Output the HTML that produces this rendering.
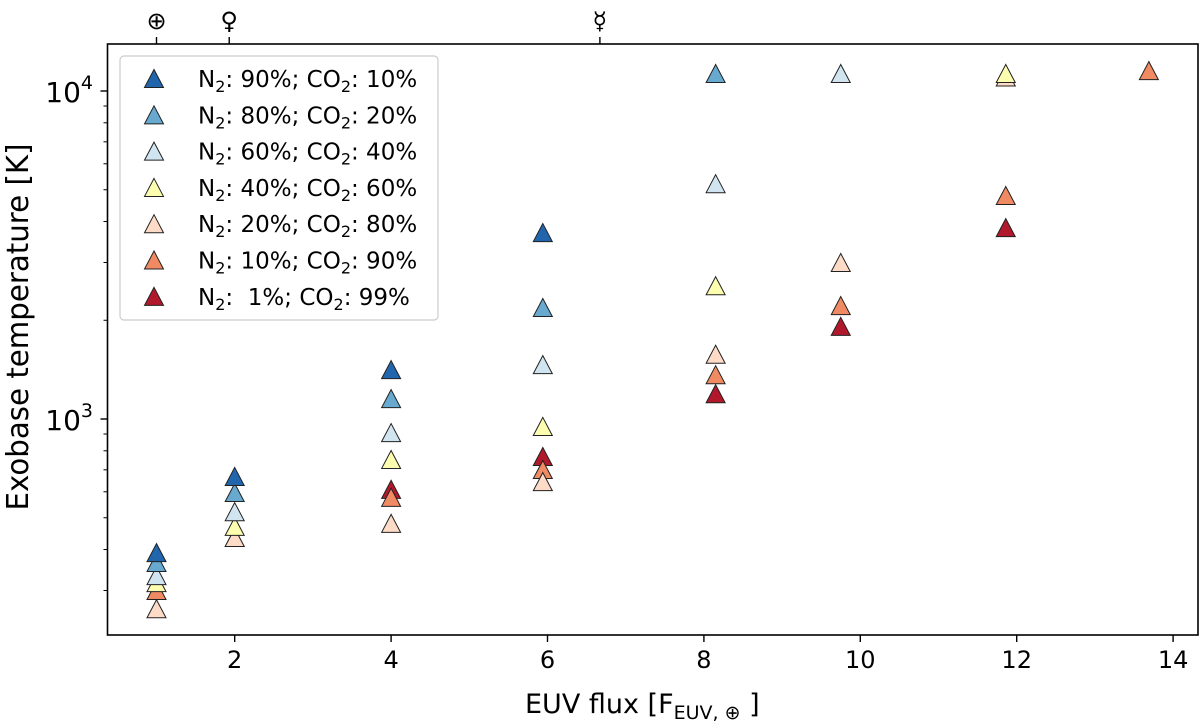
<!DOCTYPE html>
<html><head><meta charset="utf-8"><style>
html,body{margin:0;padding:0;background:#fff;}
svg{display:block;font-family:"DejaVu Sans","Liberation Sans",sans-serif;}
</style></head><body>
<svg id="chart" width="1200" height="722" viewBox="0 0 1200 722" xmlns="http://www.w3.org/2000/svg"></svg>
<script>
const xValues = [1, 2, 4, 5.94, 8.15, 9.75, 11.86, 13.69];
const seriesNames = ["N2 90% CO2 10%","N2 80% CO2 20%","N2 60% CO2 40%","N2 40% CO2 60%","N2 20% CO2 80%","N2 10% CO2 90%","N2 1% CO2 99%"];
const seriesColors = ["#2166ac","#67a9cf","#d1e5f0","#fdfdb0","#fddbc7","#ef8a62","#b2182b"];
const s90 = [390, 666, 1410, 3690, null, null, null, null];
const s80 = [364, 595, 1150, 2180, 11270, null, null, null];
const s60 = [332, 520, 906, 1460, 5200, 11270, null, null];
const s40 = [316, 469, 750, 946, 2540, null, 11270, null];
const s20 = [263, 434, 479, 642, 1570, 2990, 11000, null];
const s10 = [299, 434, 575, 699, 1360, 2210, 4785, 11500];
const s01 = [null, null, 608, 766, 1190, 1910, 3820, null];
const seriesValues = [s90, s80, s60, s40, s20, s10, s01];
const xTicks = [2, 4, 6, 8, 10, 12, 14];
const yMajorTicks = [1000, 10000];
const topTickValues = [1, 1.93, 6.67];
const topTickLabels = ["⊕", "♀", "☿"];

const NS = "http://www.w3.org/2000/svg";
const svg = document.getElementById("chart");
const L = 107.5, R = 1198, T = 44, B = 635;
function xs(v){ return 78.3 + v * 78.2; }
function ys(v){ return 419 - (Math.log10(v) - 3) * 328; }
function mk(tag, attrs, parent){ const e = document.createElementNS(NS, tag); for (const k in attrs) e.setAttribute(k, attrs[k]); (parent||svg).appendChild(e); return e; }
function tri(cx, cy, color, parent){
  const s = 9.5;
  return mk("polygon", {points: `${cx},${cy-s} ${cx-s},${cy+s*0.9} ${cx+s},${cy+s*0.9}`, fill: color, stroke: "#222", "stroke-width": 1}, parent);
}

seriesValues.slice().reverse().forEach((arr, ri) => {
  const si = seriesValues.length - 1 - ri;
  const g = mk("g", {});
  
  
  arr.forEach((v, i) => {
    if (v == null) return;
    const p = tri(xs(xValues[i]), ys(v), seriesColors[si], g);
    
    
  });
});

const frame = mk("rect", {x: L, y: T, width: R - L, height: B - T, fill: "none", stroke: "#000", "stroke-width": 1.6});



xTicks.forEach(t => {
  const x = xs(t);
  mk("line", {x1: x, x2: x, y1: B, y2: B + 7, stroke: "#000", "stroke-width": 1.4});
  const tx = mk("text", {x: x, y: B + 33, "text-anchor": "middle", "font-size": 24, fill: "#000"});
  tx.textContent = t;
  
  
});
topTickValues.forEach((t, i) => {
  const x = xs(t);
  mk("line", {x1: x, x2: x, y1: T, y2: T - 7, stroke: "#000", "stroke-width": 1.4});
  const tx = mk("text", {x: x, y: T - 15, "text-anchor": "middle", "font-size": 24, fill: "#000"});
  tx.textContent = topTickLabels[i];
  
  
});
for (let d = 100; d <= 10000; d *= 10) {
  for (let m = 1; m <= 9; m++) {
    const v = d * m; const y = ys(v);
    if (y < T || y > B) continue;
    const major = m === 1;
    mk("line", {x1: L, x2: L - (major ? 7 : 4), y1: y, y2: y, stroke: "#000", "stroke-width": major ? 1.4 : 1});
  }
}
yMajorTicks.forEach(v => {
  const y = ys(v);
  const tx = mk("text", {x: 93, y: y + 11, "text-anchor": "end", "font-size": 28, fill: "#000"});
  tx.innerHTML = '10<tspan dy="-13" font-size="19">' + Math.round(Math.log10(v)) + '</tspan>';
  
  
});

const xt = mk("text", {x: 525, y: 713, "font-size": 27, fill: "#000"});
xt.innerHTML = 'EUV flux [F<tspan dy="6" font-size="19">EUV, ⊕</tspan><tspan dy="-6"> ]</tspan>';


const yt = mk("text", {x: 0, y: 0, "text-anchor": "middle", "font-size": 30, fill: "#000", textLength: 367, lengthAdjust: "spacingAndGlyphs", transform: "translate(28,327) rotate(-90)"});
yt.textContent = "Exobase temperature [K]";



const lg = mk("g", {});


mk("rect", {x: 120, y: 56, width: 318, height: 264, rx: 4, fill: "#fff", "fill-opacity": 0.85, stroke: "#ccc", "stroke-width": 1.2}, lg);
const n2 = ["90%", "80%", "60%", "40%", "20%", "10%", " 1%"];
const co2 = ["10%", "20%", "40%", "60%", "80%", "90%", "99%"];
n2.forEach((n, i) => {
  const y = 79 + i * 36.3;
  const e = mk("g", {}, lg);
  
  
  tri(154, y, seriesColors[i], e);
  const t = mk("text", {x: 198, y: y + 8, "font-size": 23, fill: "#000"}, e);
  t.setAttribute("style", "white-space:pre");
  t.innerHTML = 'N<tspan dy="5" font-size="16">2</tspan><tspan dy="-5">: ' + n + '; CO</tspan><tspan dy="5" font-size="16">2</tspan><tspan dy="-5">: ' + co2[i] + '</tspan>';
});
</script>
</body></html>
